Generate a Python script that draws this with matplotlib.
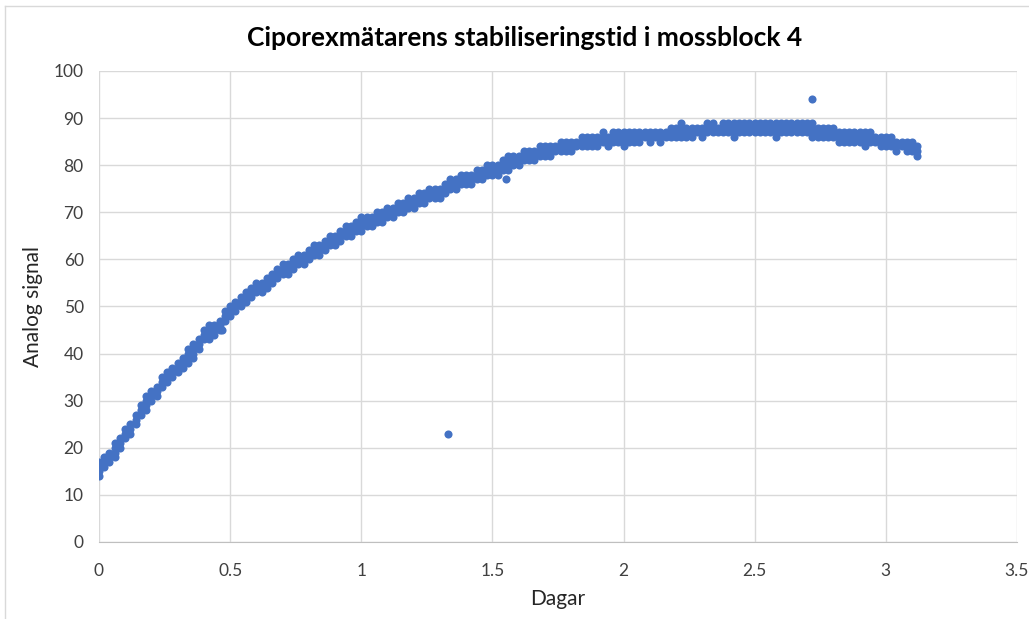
import matplotlib
matplotlib.use("Agg")
import matplotlib.pyplot as plt
from matplotlib.lines import Line2D

# sampled times (days) and the signal levels seen at each time
dagar = [i / 50 for i in range(157)]  # 0.00 .. 3.12 in 0.02 steps
signal_rows = [
    [14, 15, 16, 17], [16, 17, 18], [17, 18, 19], [18, 19, 20, 21], [20, 21, 22],
    [22, 23, 24], [23, 24, 25], [25, 26, 27], [27, 28, 29], [28, 29, 30, 31],
    [30, 31, 32], [31, 32, 33], [33, 34, 35], [34, 35, 36], [35, 36, 37],
    [36, 37, 38], [37, 38, 39], [38, 39, 40, 41], [39, 40, 41, 42], [41, 42, 43],
    [43, 44, 45], [43, 44, 45, 46], [44, 45, 46], [45, 46, 47], [47, 48, 49],
    [48, 49, 50], [49, 50, 51], [50, 51, 52], [51, 52, 53], [52, 53, 54],
    [53, 54, 55], [53, 54, 55], [54, 55, 56], [55, 56, 57], [56, 57, 58],
    [57, 58, 59], [57, 58, 59], [58, 59, 60], [59, 60, 61], [59, 60, 61],
    [60, 61, 62], [61, 62, 63], [61, 62, 63], [62, 63, 64], [63, 64, 65],
    [63, 64, 65], [64, 65, 66], [65, 66, 67], [65, 66, 67], [66, 67, 68],
    [66, 67, 68, 69], [67, 68, 69], [67, 68, 69], [68, 69, 70], [68, 69, 70],
    [69, 70, 71], [69, 70, 71], [70, 71, 72], [70, 71, 72], [71, 72, 73],
    [71, 72, 73], [72, 73, 74], [72, 73, 74], [73, 74, 75], [73, 74, 75],
    [73, 74, 75], [74, 75, 76], [75, 76, 77], [75, 76, 77], [76, 77, 78],
    [76, 77, 78], [76, 77, 78], [77, 78, 79], [77, 78, 79], [78, 79, 80],
    [78, 79, 80], [78, 79, 80], [79, 80, 81], [79, 80, 81, 82], [80, 81, 82],
    [80, 81, 82], [81, 82, 83], [81, 82, 83], [81, 82, 83], [82, 83, 84],
    [82, 83, 84], [82, 83, 84], [83, 84], [83, 84, 85], [83, 84, 85],
    [83, 84, 85], [84, 85], [84, 85, 86], [84, 85, 86], [84, 85, 86],
    [84, 85, 86], [85, 86, 87], [84, 85, 86], [85, 86, 87], [85, 86, 87],
    [84, 85, 86, 87], [85, 86, 87], [85, 86, 87], [85, 86, 87], [86, 87],
    [85, 86, 87], [86, 87], [85, 86, 87], [86, 87], [86, 87, 88],
    [86, 87, 88], [86, 87, 88, 89], [86, 87, 88], [86, 87, 88], [87, 88],
    [86, 87, 88], [87, 88, 89], [87, 88, 89], [87, 88], [87, 88, 89],
    [87, 88, 89], [86, 87, 88, 89], [87, 88, 89], [87, 88, 89], [87, 88, 89],
    [87, 88, 89], [87, 88, 89], [87, 88, 89], [87, 88, 89], [86, 87, 88, 89],
    [87, 88, 89], [87, 88, 89], [87, 88, 89], [87, 88, 89], [87, 88, 89],
    [87, 88, 89], [86, 87, 88, 89], [86, 87, 88], [86, 87, 88], [86, 87, 88],
    [86, 87, 88], [85, 86, 87], [85, 86, 87], [85, 86, 87], [85, 86, 87],
    [85, 86, 87], [84, 85, 86, 87], [85, 86, 87], [85, 86], [84, 85, 86],
    [84, 85, 86], [84, 85, 86], [83, 84, 85], [84, 85], [83, 84, 85],
    [83, 84, 85], [82, 83, 84],
]

# single stray readings
outlier_x = [0.47, 1.33, 1.55, 2.72]
outlier_y = [45, 23, 77, 94]

xs, ys = [], []
for d, row in zip(dagar, signal_rows):
    for v in row:
        xs.append(d)
        ys.append(v)
xs += outlier_x
ys += outlier_y

plt.rcParams['font.family'] = ['Lato', 'DejaVu Sans']

fig = plt.figure(figsize=(10.29, 6.19), dpi=100)
ax = fig.add_axes([0.0962, 0.1244, 0.8921, 0.7609])

ax.scatter(xs, ys, s=34, color='#4472C4', linewidths=0, zorder=3)

ax.set_xlim(0, 3.5)
ax.set_ylim(0, 100)
ax.set_xticks([0, 0.5, 1, 1.5, 2, 2.5, 3, 3.5])
ax.set_xticklabels(['0', '0.5', '1', '1.5', '2', '2.5', '3', '3.5'])
ax.set_yticks(range(0, 101, 10))
ax.grid(True, color='#d9d9d9', linewidth=1)
ax.set_axisbelow(True)
for side in ['top', 'right', 'left']:
    ax.spines[side].set_visible(False)
ax.spines['bottom'].set_color('#bfbfbf')
ax.tick_params(length=0, labelsize=12.5, colors='#404040')
ax.tick_params(axis='x', pad=15)
ax.tick_params(axis='y', pad=11)

fig.text(0.51, 0.938, 'Ciporexmätarens stabiliseringstid i mossblock 4',
         ha='center', va='center', fontsize=19, fontweight='bold', color='#000000')
ax.set_xlabel('Dagar', fontsize=15, color='#262626', labelpad=7)
ax.set_ylabel('Analog signal', fontsize=15, color='#262626', labelpad=8)

# thin chart border like the original
fig.add_artist(Line2D([0.005, 0.005], [0, 0.99], color='#d9d9d9', lw=1))
fig.add_artist(Line2D([0.005, 1], [0.99, 0.99], color='#d9d9d9', lw=1))

fig.savefig('out.png', dpi=100)
